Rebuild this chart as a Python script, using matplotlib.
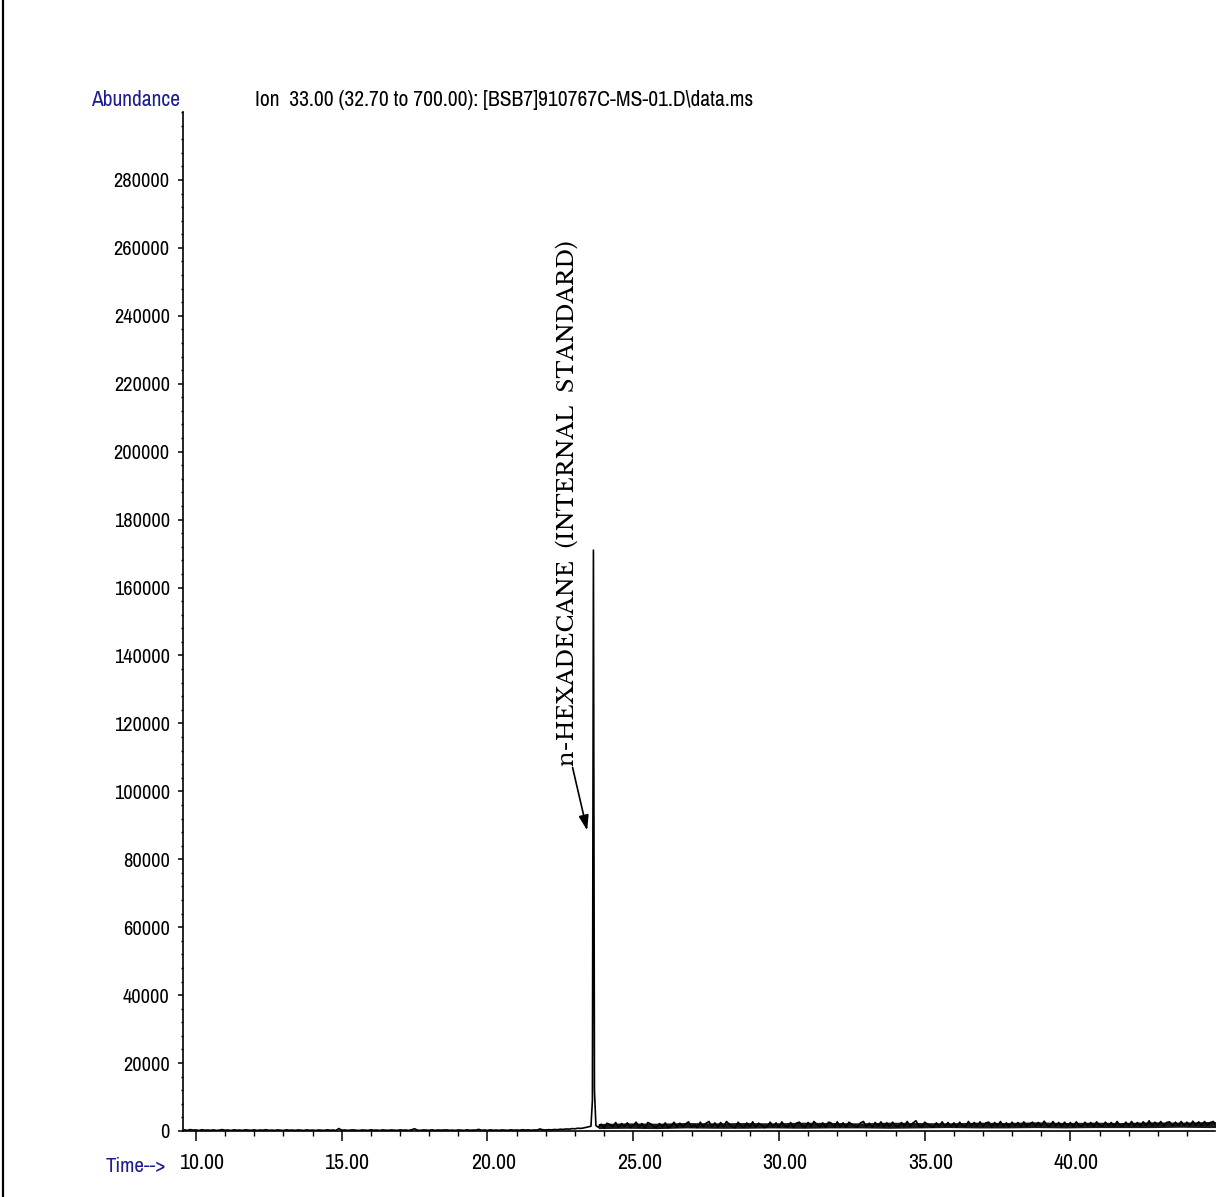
import numpy as np
import matplotlib
matplotlib.use("Agg")
import matplotlib.pyplot as plt
import matplotlib.transforms as mtrans
from matplotlib.lines import Line2D
from matplotlib.ticker import MultipleLocator, FixedLocator
from matplotlib import font_manager as fm

# ---------------- data ----------------
pre_start, pre_step = 9.6, 0.1
pre_values = [
    350, 180, 420, 260, 310, 150, 380, 240, 290, 200,
    330, 170, 260, 410, 220, 300, 160, 350, 230, 280,
    190, 370, 250, 210, 340, 160, 290, 230, 390, 200,
    270, 180, 320, 240, 150, 360, 220, 280, 190, 310,
    240, 170, 330, 210, 280, 150, 300, 230, 180, 350,
    220, 290, 160, 720, 240, 310, 190, 260, 340, 210,
    170, 300, 250, 190, 360, 220, 280, 150, 330, 240,
    200, 310, 260, 180, 340, 230, 290, 170, 380, 650,
    240, 190, 320, 260, 210, 350, 180, 300, 240, 270,
    330, 200, 260, 170, 310, 240, 190, 360, 220, 280,
    250, 480, 210, 300, 180, 340, 230, 270, 200, 320,
    260, 190, 350, 240, 300, 210, 380, 270, 330, 220,
    310, 280, 600, 350, 290, 400, 330, 450, 380, 520,
    460, 600, 540, 700, 650, 820, 760, 900, 1100,
]

peak_times = [23.46, 23.55, 23.60, 23.635, 23.67, 23.72]
peak_values = [1200, 1400, 9000, 171000, 12000, 1600]

post_start, post_step = 23.8, 0.1
post_values = [
    1100, 2000, 900, 2300, 1900, 1200, 2500, 1000, 2200, 1300,
    2400, 1000, 1600, 2600, 1100, 2200, 900, 2500, 2100, 1300,
    1000, 2200, 1200, 2400, 900, 1500, 2600, 1100, 2300, 1200,
    2100, 2700, 1100, 1800, 1000, 2600, 1300, 2300, 2800, 1200,
    2400, 1100, 2500, 1300, 2800, 2000, 1200, 1000, 2600, 1400,
    1100, 2400, 1300, 2700, 1200, 2300, 1700, 1000, 1400, 2600,
    1300, 2400, 1100, 2700, 1400, 1200, 2500, 1000, 2300, 2600,
    1400, 1100, 2500, 1300, 2800, 1900, 1200, 2400, 1100, 2600,
    2300, 1200, 2700, 1300, 2400, 1100, 2600, 2000, 1400, 1200,
    2400, 2800, 1300, 2300, 1100, 2500, 1400, 2700, 1200, 2400,
    1300, 2600, 1500, 1200, 2500, 1400, 2800, 1300, 2400, 3000,
    1500, 1200, 2600, 2000, 1400, 1100, 2400, 1300, 2700, 1400,
    2500, 1300, 2400, 1200, 2600, 1500, 1300, 2800, 1400, 2500,
    1400, 2700, 1300, 2400, 2600, 1200, 2500, 1500, 2800, 1400,
    2400, 1300, 2600, 1500, 2500, 1200, 2700, 1400, 2000, 2600,
    1400, 2500, 1500, 2900, 1600, 1300, 2800, 1500, 2500, 1400,
    2600, 1500, 2500, 1300, 2700, 1600, 1400, 2600, 1500, 2500,
    1300, 2700, 1600, 1400, 2600, 1500, 2500, 1300, 2800, 1600,
    1400, 2600, 1600, 2800, 1500, 2500, 1400, 2700, 1600, 3000,
    1500, 2600, 1600, 2800, 1400, 2500, 2700, 1500, 2600, 1600,
    2800, 1600, 2600, 1500, 2900, 1700, 2700, 1600, 2800, 1700,
    2500, 2800, 1700,
]

# dense-noise envelope of the post-peak baseline, read at 1-min spacing
env_start, env_step = 23.8, 1.0
env_low = [700, 800, 700, 900, 800, 800, 900, 800, 900, 900, 800, 900,
           1000, 900, 900, 1000, 900, 1000, 1000, 1000, 1100, 1000, 1100]
env_high = [2200, 2400, 2300, 2500, 2400, 2500, 2400, 2600, 2500, 2400, 2600, 2500,
            2400, 2600, 2500, 2700, 2500, 2600, 2500, 2700, 2600, 2800, 2700]

x_ticks = [10, 15, 20, 25, 30, 35, 40]
x_tick_labels = ["10.00", "15.00", "20.00", "25.00", "30.00", "35.00", "40.00"]
y_ticks = list(range(0, 280001, 20000))
y_tick_labels = [str(v) for v in y_ticks]

title_text = r"Ion  33.00 (32.70 to 700.00): [BSB7]910767C-MS-01.D\data.ms"
peak_label = "n-HEXADECANE  (INTERNAL  STANDARD)"

# ---------------- assemble trace ----------------
pre_t = pre_start + pre_step * np.arange(len(pre_values))
post_t = post_start + post_step * np.arange(len(post_values))
t = np.concatenate([pre_t, np.array(peak_times), post_t])
y = np.concatenate([np.array(pre_values), np.array(peak_values), np.array(post_values)])
env_t = env_start + env_step * np.arange(len(env_low))

# ---------------- fonts ----------------
available = {f.name for f in fm.fontManager.ttflist}
def pick(cands, default):
    for c in cands:
        if c in available:
            return c
    return default

narrow = pick(['Liberation Sans Narrow', 'Arial Narrow', 'Archivo Narrow',
               'PT Sans Narrow', 'Roboto Condensed', 'Pragati Narrow'], 'Liberation Sans')
serif_name = pick(['Libre Baskerville', 'Liberation Serif'], 'DejaVu Serif')
sans = [narrow, 'Liberation Sans', 'DejaVu Sans']
serif = [serif_name, 'Liberation Serif', 'DejaVu Serif']
blue = '#1c1c8f'

# ---------------- figure ----------------
W, H = 1230, 1197
fig = plt.figure(figsize=(W / 100, H / 100), dpi=100)
ax = fig.add_axes([183 / W, (H - 1131) / H, (1215 - 183) / W, (1131 - 112) / H])

ax.fill_between(env_t, env_low, env_high, color='#1a1a1a', lw=0)
ax.plot(t, y, color='black', lw=1.2)

ax.set_xlim(9.554, 44.96)
ax.set_ylim(0, 300000)

for s in ['top', 'right']:
    ax.spines[s].set_visible(False)
for s in ['left', 'bottom']:
    ax.spines[s].set_linewidth(1.2)

ax.xaxis.set_major_locator(FixedLocator(x_ticks))
ax.xaxis.set_minor_locator(MultipleLocator(1))
ax.set_xticklabels(x_tick_labels, family=sans, fontsize=15.8)
ax.yaxis.set_major_locator(FixedLocator(y_ticks))
ax.yaxis.set_minor_locator(MultipleLocator(4000))
ax.set_yticklabels(y_tick_labels, family=sans, fontsize=14.7)

ax.tick_params(axis='x', which='major', direction='out', length=7.5, width=1.1, pad=8)
ax.tick_params(axis='x', which='minor', direction='out', length=3.6, width=1.0)
ax.tick_params(axis='y', which='major', direction='out', length=3.5, width=1.1, pad=6)
ax.tick_params(axis='y', which='minor', direction='out', length=1.2, width=1.0)

off = mtrans.ScaledTranslation(6 / 100, 0, fig.dpi_scale_trans)
for lab in ax.get_xticklabels():
    lab.set_transform(lab.get_transform() + off)

# texts
fig.text(180 / W, 1 - 100 / H, "Abundance", color=blue, family=sans, fontsize=15.5,
         ha='right', va='center')
fig.text(255 / W, 1 - 100 / H, title_text, color='black', family=sans, fontsize=15.5,
         ha='left', va='center')
fig.text(166 / W, 1 - 1166 / H, "Time-->", color=blue, family=sans, fontsize=15,
         ha='right', va='center')

ax.text(22.73, 107500, peak_label, rotation=90, family=serif, fontsize=16.1,
        ha='center', va='bottom')
ax.annotate("", xy=(23.42, 88500), xytext=(22.92, 107000),
            arrowprops=dict(arrowstyle='-|>,head_length=0.9,head_width=0.3',
                            color='black', lw=1.2, shrinkA=0, shrinkB=0))

# left page border
fig.add_artist(Line2D([3 / W, 3 / W], [0, 1], transform=fig.transFigure,
                      color='black', lw=1.6))

fig.savefig("out.png", dpi=100)
